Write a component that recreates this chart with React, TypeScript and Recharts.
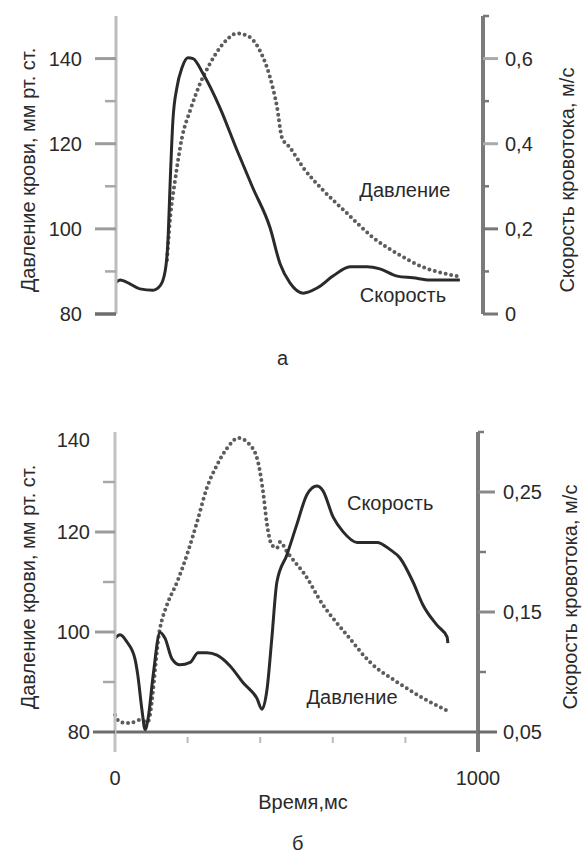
import { LineChart, Line, XAxis, YAxis, ReferenceLine, ReferenceDot } from 'recharts';

const FONT = '"Liberation Sans", Arial, sans-serif';
const INK = '#2a2a2a';
const DOTS = '#5c5c5c';

// panel а
const aPressureT = [139, 147, 161, 180, 202, 229, 256, 292, 330, 357, 392, 420, 439, 452, 474, 510, 564, 629, 700, 774, 837, 891, 943];
const aPressure = [92.7, 102, 111.4, 121.5, 127.8, 134.1, 138.8, 143.5, 145.9, 145.4, 141.9, 135.5, 128.5, 121.5, 119.1, 114.4, 109.1, 103.7, 98, 93.8, 91, 89.6, 88.7];
const aVelocityT = [0, 11, 38, 65, 101, 120, 134, 142, 147, 155, 166, 180, 196, 210, 237, 283, 330, 373, 420, 447, 474, 510, 548, 591, 638, 684, 719, 766, 809, 856, 937];
const aVelocity = [0.074, 0.08, 0.071, 0.059, 0.056, 0.066, 0.101, 0.179, 0.296, 0.454, 0.532, 0.579, 0.602, 0.6, 0.565, 0.485, 0.384, 0.296, 0.202, 0.118, 0.073, 0.049, 0.061, 0.089, 0.111, 0.111, 0.106, 0.089, 0.085, 0.08, 0.08];
const aLeftTicks = [80, 90, 100, 110, 120, 130, 140];
const aLeftLabels = ['80', '', '100', '', '120', '', '140'];
const aRightTicks = [0, 0.1, 0.2, 0.3, 0.4, 0.5, 0.6, 0.7];
const aRightLabels = ['0', '', '0,2', '', '0,4', '', '0,6', ''];

// panel б
const bPressureT = [0, 14, 41, 69, 90, 124, 143, 171, 198, 226, 253, 281, 309, 339, 372, 394, 408, 419, 432, 446, 455, 474, 501, 518, 573, 639, 702, 777, 848, 923];
const bPressure = [83.4, 82, 81.8, 82.4, 82, 100.8, 105.4, 110, 115.4, 122, 128.8, 133.4, 136.8, 138.8, 137.4, 134, 128, 121.4, 117.4, 116.8, 118, 116, 113.5, 112, 105.4, 99.4, 94, 90, 86.8, 84];
const bVelocityT = [0, 14, 33, 55, 63, 74, 83, 91, 105, 124, 138, 157, 179, 207, 229, 253, 281, 317, 353, 391, 405, 419, 432, 446, 474, 501, 529, 556, 573, 601, 628, 667, 722, 758, 785, 821, 848, 887, 915, 917];
const bVelocity = [0.128, 0.131, 0.125, 0.111, 0.097, 0.069, 0.052, 0.061, 0.097, 0.133, 0.128, 0.111, 0.106, 0.108, 0.116, 0.116, 0.114, 0.105, 0.091, 0.078, 0.069, 0.086, 0.128, 0.175, 0.198, 0.223, 0.248, 0.255, 0.251, 0.229, 0.217, 0.208, 0.208, 0.202, 0.195, 0.175, 0.156, 0.139, 0.129, 0.124];
const bLeftTicks = [80, 90, 100, 110, 120, 130, 140];
const bLeftLabels = ['80', '', '100', '', '120', '', '140'];
const bRightTicks = [0.05, 0.1, 0.15, 0.2, 0.25, 0.3];
const bRightLabels = ['0,05', '', '0,15', '', '0,25', ''];
const timeTicks = [0, 200, 400, 600, 800, 1000];
const timeLabels = ['0', '', '', '', '', '1000'];

const zip = (ts: number[], vs: number[]) => ts.map((t, i) => ({ t, v: vs[i] }));

type TickStyle = { len: number; width: number; color: string; dy?: number };

function sideTick(
  side: 'left' | 'right',
  ticks: number[],
  labels: string[],
  styleOf: (i: number) => TickStyle,
  labelOffset: number,
) {
  return (props: any) => {
    const { x, y, payload } = props;
    const i = ticks.findIndex((t) => Math.abs(t - payload.value) < 1e-9);
    if (i < 0) return <g />;
    const s = styleOf(i);
    const dir = side === 'left' ? -1 : 1;
    return (
      <g>
        {s.len > 0 && <line x1={x} x2={x + dir * s.len} y1={y} y2={y} stroke={s.color} strokeWidth={s.width} />}
        {labels[i] && (
          <text
            x={x + dir * labelOffset}
            y={y + (s.dy ?? 0)}
            textAnchor={side === 'left' ? 'end' : 'start'}
            dominantBaseline="central"
            fontSize={20}
            fontFamily={FONT}
            fill={INK}
          >
            {labels[i]}
          </text>
        )}
      </g>
    );
  };
}

const title = (text: string, x: number, y: number) => () => (
  <text
    x={x}
    y={y}
    transform={`rotate(-90 ${x} ${y})`}
    textAnchor="middle"
    dominantBaseline="central"
    fontSize={20}
    fontFamily={FONT}
    fill={INK}
  >
    {text}
  </text>
);

const note = (value: string) => ({ value, position: 'center' as const, fontSize: 20, fontFamily: FONT, fill: INK });

const dotted = {
  type: 'monotone' as const,
  stroke: DOTS,
  strokeWidth: 4,
  strokeDasharray: '0 5.6',
  strokeLinecap: 'round' as const,
  dot: false,
  isAnimationActive: false,
};

function PanelA() {
  const leftStyle = (i: number): TickStyle =>
    i === 0 ? { len: 21, width: 3.5, color: '#6d6d6d' } : aLeftLabels[i] ? { len: 21, width: 3, color: '#9c9c9c' } : { len: 11, width: 2.5, color: '#a8a8a8' };
  const rightStyle = (i: number): TickStyle =>
    aRightLabels[i] ? { len: 15, width: 3, color: i < 3 ? '#777' : '#aaa' } : { len: 6, width: 2.5, color: '#777' };
  return (
    <LineChart width={582} height={340} margin={{ top: 16, right: 0, bottom: 26, left: 0 }}>
      <XAxis dataKey="t" type="number" domain={[0, 1000]} hide />
      <YAxis
        yAxisId="p"
        type="number"
        domain={[80, 150]}
        allowDataOverflow
        ticks={aLeftTicks}
        interval={0}
        width={116}
        tickSize={0}
        tickMargin={0}
        tickLine={false}
        axisLine={{ stroke: '#bdbdbd', strokeWidth: 3 }}
        tick={sideTick('left', aLeftTicks, aLeftLabels, leftStyle, 34)}
        label={{ content: title('Давление крови, мм рт. ст.', 28, 170) }}
      />
      <YAxis
        yAxisId="v"
        orientation="right"
        type="number"
        domain={[0, 0.7]}
        allowDataOverflow
        ticks={aRightTicks}
        interval={0}
        width={99}
        tickSize={0}
        tickMargin={0}
        tickLine={false}
        axisLine={{ stroke: '#7b7b7b', strokeWidth: 4 }}
        tick={sideTick('right', aRightTicks, aRightLabels, rightStyle, 22)}
        label={{ content: title('Скорость кровотока, м/с', 567, 180) }}
      />
      <Line yAxisId="p" data={zip(aPressureT, aPressure)} dataKey="v" {...dotted} />
      <Line
        yAxisId="v"
        data={zip(aVelocityT, aVelocity)}
        dataKey="v"
        type="monotone"
        stroke={INK}
        strokeWidth={3}
        dot={false}
        isAnimationActive={false}
      />
      <ReferenceDot yAxisId="p" x={787} y={109.1} r={1} fill="none" stroke="none" label={note('Давление')} />
      <ReferenceDot yAxisId="p" x={782} y={84.5} r={1} fill="none" stroke="none" label={note('Скорость')} />
    </LineChart>
  );
}

function PanelB() {
  const leftStyle = (i: number): TickStyle =>
    i === 0
      ? { len: 22, width: 3, color: '#6d6d6d' }
      : i === 6
        ? { len: 0, width: 0, color: 'none', dy: 8 }
        : bLeftLabels[i]
          ? { len: 20, width: 3, color: '#9c9c9c' }
          : { len: 12, width: 2.5, color: '#a8a8a8' };
  const rightStyle = (i: number): TickStyle =>
    i === 0
      ? { len: 19, width: 3, color: '#6d6d6d' }
      : bRightLabels[i]
        ? { len: 17, width: 3, color: '#8a8a8a' }
        : { len: i === 5 ? 6 : 8, width: 2.5, color: '#7b7b7b' };
  const timeTick = (props: any) => {
    const { x, y, payload } = props;
    const i = timeTicks.indexOf(payload.value);
    if (i < 0) return <g />;
    if (timeLabels[i]) {
      return (
        <text x={x} y={y + 26} textAnchor="middle" dominantBaseline="central" fontSize={20} fontFamily={FONT} fill={INK}>
          {timeLabels[i]}
        </text>
      );
    }
    return <line x1={x} x2={x} y1={y - 15} y2={y - 9} stroke="#bbb" strokeWidth={2} />;
  };
  const timeTitle = () => (
    <text x={303} y={402} textAnchor="middle" dominantBaseline="central" fontSize={20} fontFamily={FONT} fill={INK}>
      Время,мс
    </text>
  );
  return (
    <LineChart width={582} height={453} margin={{ top: 32, right: 0, bottom: 41, left: 0 }}>
      <XAxis
        dataKey="t"
        type="number"
        domain={[0, 1000]}
        ticks={timeTicks}
        interval={0}
        height={60}
        tickSize={0}
        tickMargin={0}
        tickLine={false}
        axisLine={false}
        tick={timeTick}
        label={{ content: timeTitle }}
      />
      <YAxis
        yAxisId="p"
        type="number"
        domain={[76, 140]}
        allowDataOverflow
        ticks={bLeftTicks}
        interval={0}
        width={115}
        tickSize={0}
        tickMargin={0}
        tickLine={false}
        axisLine={{ stroke: '#c2c2c2', strokeWidth: 3 }}
        tick={sideTick('left', bLeftTicks, bLeftLabels, leftStyle, 25)}
        label={{ content: title('Давление крови, мм рт. ст.', 28, 187) }}
      />
      <YAxis
        yAxisId="v"
        orientation="right"
        type="number"
        domain={[1 / 30, 0.3]}
        allowDataOverflow
        ticks={bRightTicks}
        interval={0}
        width={104}
        tickSize={0}
        tickMargin={0}
        tickLine={false}
        axisLine={{ stroke: '#7b7b7b', strokeWidth: 4 }}
        tick={sideTick('right', bRightTicks, bRightLabels, rightStyle, 25)}
        label={{ content: title('Скорость кровотока, м/с', 570, 197) }}
      />
      <ReferenceLine yAxisId="p" y={80} stroke="#6d6d6d" strokeWidth={3} />
      <Line yAxisId="p" data={zip(bPressureT, bPressure)} dataKey="v" {...dotted} />
      <Line
        yAxisId="v"
        data={zip(bVelocityT, bVelocity)}
        dataKey="v"
        type="monotone"
        stroke={INK}
        strokeWidth={3}
        dot={false}
        isAnimationActive={false}
      />
      <ReferenceDot yAxisId="p" x={653} y={87} r={1} fill="none" stroke="none" label={note('Давление')} />
      <ReferenceDot yAxisId="p" x={758} y={125.8} r={1} fill="none" stroke="none" label={note('Скорость')} />
    </LineChart>
  );
}

export default function App() {
  const caption = { position: 'absolute' as const, fontSize: 20, fontFamily: FONT, color: INK, lineHeight: 1 };
  return (
    <div style={{ position: 'absolute', left: 0, top: 0, width: 582, height: 853, background: '#fff', overflow: 'hidden' }}>
      <div style={{ position: 'absolute', left: 0, top: 0 }}>
        <PanelA />
      </div>
      <div style={{ ...caption, left: 277, top: 348 }}>а</div>
      <div style={{ position: 'absolute', left: 0, top: 400 }}>
        <PanelB />
      </div>
      <div style={{ ...caption, left: 292, top: 833 }}>б</div>
    </div>
  );
}
